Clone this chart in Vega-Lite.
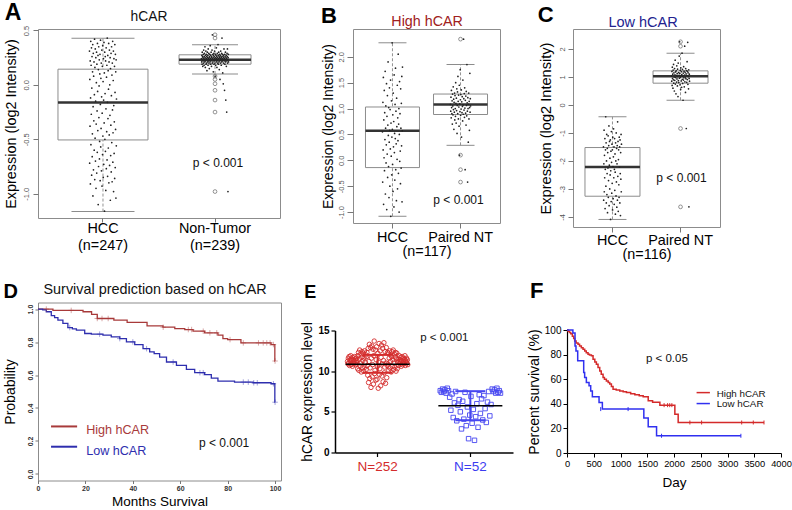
{
"$schema": "https://vega.github.io/schema/vega-lite/v6.json",
"padding": {"left": 2, "top": 1, "right": 0, "bottom": 0},
"config": {"font": "Liberation Sans", "view": {"stroke": null},
  "axis": {"grid": false, "labelFont": "Liberation Sans", "titleFont": "Liberation Sans", "titleFontWeight": "normal", "titleColor": "#000", "labelFlush": false, "labelOverlap": false, "labelBound": false},
  "axisQuantitative": {"labelOverlap": false}, "axisX": {"labelOverlap": false}, "axisY": {"labelOverlap": false},
  "title": {"font": "Liberation Sans"}, "text": {"font": "Liberation Sans"}},
"datasets": {
  "boxA": [{"g":"HCC","lo":-1.164,"q1":-0.506,"med":-0.163,"q3":0.144,"hi":0.429},{"g":"Non-Tumor","lo":0.10,"q1":0.19,"med":0.23,"q3":0.276,"hi":0.368}],
  "boxB": [{"g":"HCC","lo":-1.08,"q1":-0.14,"med":0.57,"q3":1.03,"hi":2.27},{"g":"Paired NT","lo":0.29,"q1":0.885,"med":1.08,"q3":1.28,"hi":1.85}],
  "boxC": [{"g":"HCC","lo":-4.09,"q1":-3.26,"med":-2.22,"q3":-1.52,"hi":-0.42},{"g":"Paired NT","lo":0.17,"q1":0.78,"med":1.03,"q3":1.22,"hi":1.85}]
},
"resolve": {"scale": {"xOffset": "independent", "color": "independent", "size": "independent", "shape": "independent"}},
"vconcat": [
{"hconcat": [
 {"width": 242, "height": 189, "view": {"stroke": "#8c8c8c"},
  "encoding": {"x": {"field": "g", "type": "nominal", "scale": {"domain": ["HCC","Non-Tumor"], "paddingInner": 0, "paddingOuter": 0.08},
     "axis": {"title": null, "labelAngle": 0, "domain": false, "tickSize": 4, "tickColor": "#777", "labelFontSize": 14.4, "labelColor": "#000", "labelPadding": -1, "labelLineHeight": 17, "labelOverlap": false,
       "labelExpr": "datum.value == 'HCC' ? ['HCC', '(n=247)'] : ['Non-Tumor', '(n=239)']"}}},
  "resolve": {"scale": {"size": "independent"}},
  "layer": [
   {"data": {"name": "boxA"}, "mark": {"type": "rule", "strokeDash": [3,2], "color": "#777", "strokeWidth": 0.8},
    "encoding": {"y": {"field": "lo", "type": "quantitative", "scale": {"domain": [-1.223,0.513], "nice": false, "zero": false},
       "axis": {"title": "Expression (log2 Intensity)", "titleFontSize": 14.4, "titlePadding": 4, "values": [-1,-0.5,0,0.5], "tickCount": 4, "format": ".1f", "labelExpr": "replace(datum.label, '\u2212', '-')", "labelOverlap": false,
         "labelAngle": -90, "labelAlign": "center", "labelBaseline": "bottom", "labelFontSize": 7.5, "labelColor": "#555", "labelPadding": 3, "tickSize": 5, "tickColor": "#777", "domain": false}},
     "y2": {"field": "hi"}}},
   {"data": {"name": "boxA"}, "mark": {"type": "bar", "fill": "#fff", "stroke": "#8c8c8c", "strokeWidth": 1},
    "encoding": {"y": {"field": "q1", "type": "quantitative", "scale": {"domain": [-1.223,0.513], "nice": false, "zero": false}}, "y2": {"field": "q3"},
     "size": {"field": "g", "type": "ordinal", "scale": {"domain": ["HCC","Non-Tumor"], "range": [90,72]}, "legend": null}}},
   {"data": {"name": "boxA"}, "mark": {"type": "tick", "color": "#333", "thickness": 2.5, "opacity": 1},
    "encoding": {"y": {"field": "med", "type": "quantitative", "scale": {"domain": [-1.223,0.513], "nice": false, "zero": false}},
     "size": {"field": "g", "type": "ordinal", "scale": {"domain": ["HCC","Non-Tumor"], "range": [90,72]}, "legend": null}}},
   {"data": {"name": "boxA"}, "transform": [{"fold": ["lo","hi"], "as": ["k","c"]}], "mark": {"type": "tick", "color": "#8c8c8c", "thickness": 1, "opacity": 1},
    "encoding": {"y": {"field": "c", "type": "quantitative", "scale": {"domain": [-1.223,0.513], "nice": false, "zero": false}},
     "size": {"field": "g", "type": "ordinal", "scale": {"domain": ["HCC","Non-Tumor"], "range": [63,46]}, "legend": null}}},
   {"data": {"values": [
     {"g": "HCC", "v": [0.31,-0.72,0.05,-0.38,0.22,-0.91,-0.12,0.4,-0.55,0.18,-0.27,0.34,-0.83,-0.03,0.26,-0.66,-0.45,0.12,0.37,-1.02,-0.2,0.29,-0.78,0.08,-0.33,0.21,-0.6,-0.09,0.42,-0.87,0.16,-0.49,0.33,-0.7,-0.15,0.25,-0.95,-0.36,0.02,0.3,-0.81,0.19,-0.24,-0.62,0.38,-0.06,-0.42,0.27,-1.1,0.14,-0.75,0.35,-0.3,-0.01,0.23,-0.68,-0.52,0.1,0.28,-0.88,-0.18,0.41,-0.57,0.06,-0.4,0.2,-0.79,-0.11,0.32,-0.93,-0.26,0.17,-0.64,0.36,-0.47,0.03,-0.85,0.24,-0.14,-0.73,0.39,-0.35,0.11,-1.16,0.3,-0.5,-0.08,0.26,-0.61,0.22,-0.97,-0.22,0.34,-0.77,0.07,-0.43,0.18,-0.69,0.43,-0.16,-0.84,0.27,-0.31,0.13,-0.58,-0.04,0.38,-0.9,0.21,-0.46,0.32,-0.74,0,-0.28,0.25,-1.06,0.15,-0.65,-0.37,0.29,-0.8,-0.1,0.35,-0.53,0.09,-0.89,0.2,-0.23,0.4,-0.71,-0.44,0.04,0.31,-0.98,-0.19,0.24,-0.63,-0.34,0.17,-0.86,0.37,-0.07,-0.76,0.28,-0.41,0.12,-1.04,0.23,-0.56,-0.13]},
     {"g": "Non-Tumor", "v": [0.24,0.21,0.27,0.19,0.3,0.23,0.26,0.17,0.25,0.22,0.28,0.2,0.32,0.24,0.18,0.26,0.29,0.23,0.21,0.35,0.25,0.16,0.27,0.22,0.31,0.19,0.24,0.28,0.2,0.26,0.13,0.23,0.3,0.25,0.21,0.27,0.18,0.33,0.24,0.22,0.29,0.2,0.25,0.15,0.26,0.23,0.28,0.21,0.36,0.24,0.19,0.27,0.22,0.3,0.25,0.17,0.26,0.23,0.32,0.2,0.46,0.24,0.28,0.21,0.25,0.12,0.27,0.23,0.29,0.19,0.26,0.22,0.31,0.24,0.2,0.08,0.25,0.28,0.18,0.23,0.27,0.21,0.34,0.24,0.26,0.16,0.22,0.29,0.25,0.2,0.23,0.37,0.27,0.19,0.24,0.3,0.21,0.26,0.14,0.28,0.25,0.22,0.05,0.24,0.27,0.2,0.31,0.23,0.26,0.18,0.25,0.29,0.21,0.43,0.24,0.22,0.28,0.11,0.26,0.23,0.01,0.27,0.2,0.25,0.33,0.22,0.24,-0.05,0.28,0.19,0.26,0.23,0.3,0.21,-0.14,0.25,0.27,0.17,0.24,-0.25,0.22,0.29,0.26,0.33,0.2,0.23,-0.98,0.25,0.28,0.21]}]},
    "transform": [{"flatten": ["v"]}, {"window": [{"op": "row_number", "as": "i"}], "groupby": ["g"]}, {"window": [{"op": "percent_rank", "as": "r"}], "sort": [{"field": "i"}], "groupby": ["g"]}],
    "mark": {"type": "point", "filled": true, "size": 3, "color": "#222", "opacity": 1},
    "encoding": {"xOffset": {"field": "r", "type": "quantitative", "scale": {"domain": [-1.575,2.575]}},
     "y": {"field": "v", "type": "quantitative", "scale": {"domain": [-1.223,0.513], "nice": false, "zero": false}}}},
   {"data": {"values": [{"g":"Non-Tumor","v":0.46},{"g":"Non-Tumor","v":0.43},{"g":"Non-Tumor","v":0.08},{"g":"Non-Tumor","v":0.05},{"g":"Non-Tumor","v":0.01},{"g":"Non-Tumor","v":-0.05},{"g":"Non-Tumor","v":-0.14},{"g":"Non-Tumor","v":-0.25},{"g":"Non-Tumor","v":-0.98}]},
    "mark": {"type": "point", "filled": false, "size": 14, "color": "#666", "strokeWidth": 0.7, "opacity": 1},
    "encoding": {"y": {"field": "v", "type": "quantitative", "scale": {"domain": [-1.223,0.513], "nice": false, "zero": false}}}},
   {"data": {"values": [{"g": "Non-Tumor"}]}, "mark": {"type": "text", "text": "p < 0.001", "fontSize": 12, "baseline": "alphabetic", "dx": 3, "color": "#111"},
    "encoding": {"y": {"datum": -0.75, "type": "quantitative", "scale": {"domain": [-1.223,0.513], "nice": false, "zero": false}}}},
   {"data": {"values": [{"g": "HCC"}]}, "mark": {"type": "text", "text": "hCAR", "fontSize": 13.8, "baseline": "alphabetic", "dx": 46, "color": "#111"},
    "encoding": {"y": {"datum": 0.583, "type": "quantitative", "scale": {"domain": [-1.223,0.513], "nice": false, "zero": false}}}},
   {"data": {"values": [{"g": "HCC"}]}, "mark": {"type": "text", "text": "A", "fontSize": 23, "fontWeight": "bold", "align": "left", "baseline": "alphabetic", "dx": -98.3, "color": "#000"},
    "encoding": {"y": {"datum": 0.596, "type": "quantitative", "scale": {"domain": [-1.223,0.513], "nice": false, "zero": false}}}}
  ]},
 {"width": 147, "height": 194, "view": {"stroke": "#8c8c8c"},
  "encoding": {"x": {"field": "g", "type": "nominal", "scale": {"domain": ["HCC","Paired NT"], "paddingInner": 0, "paddingOuter": 0.08},
     "axis": {"title": "(n=117)", "titleFontSize": 14.4, "titlePadding": 1, "labelAngle": 0, "domain": false, "tickSize": 5, "tickColor": "#777", "labelFontSize": 14.4, "labelColor": "#000", "labelPadding": 2, "labelOverlap": false}}},
  "layer": [
   {"data": {"name": "boxB"}, "mark": {"type": "rule", "strokeDash": [3,2], "color": "#777", "strokeWidth": 0.8},
    "encoding": {"y": {"field": "lo", "type": "quantitative", "scale": {"domain": [-1.21,2.536], "nice": false, "zero": false},
       "axis": {"title": "Expression (log2 Intensity)", "titleFontSize": 14, "titlePadding": 2, "values": [-1,-0.5,0,0.5,1,1.5,2], "tickCount": 7, "format": ".1f", "labelExpr": "replace(datum.label, '\u2212', '-')", "labelOverlap": false,
         "labelAngle": -90, "labelAlign": "center", "labelBaseline": "bottom", "labelFontSize": 7.5, "labelColor": "#555", "labelPadding": 2, "tickSize": 6, "tickColor": "#777", "domain": false}},
     "y2": {"field": "hi"}}},
   {"data": {"name": "boxB"}, "mark": {"type": "bar", "fill": "#fff", "stroke": "#8c8c8c", "strokeWidth": 1, "width": 54},
    "encoding": {"y": {"field": "q1", "type": "quantitative", "scale": {"domain": [-1.21,2.536], "nice": false, "zero": false}}, "y2": {"field": "q3"}}},
   {"data": {"name": "boxB"}, "mark": {"type": "tick", "color": "#333", "thickness": 2.5, "size": 54, "opacity": 1},
    "encoding": {"y": {"field": "med", "type": "quantitative", "scale": {"domain": [-1.21,2.536], "nice": false, "zero": false}}}},
   {"data": {"name": "boxB"}, "transform": [{"fold": ["lo","hi"], "as": ["k","c"]}], "mark": {"type": "tick", "color": "#8c8c8c", "thickness": 1, "size": 28, "opacity": 1},
    "encoding": {"y": {"field": "c", "type": "quantitative", "scale": {"domain": [-1.21,2.536], "nice": false, "zero": false}}}},
   {"data": {"values": [
     {"g": "HCC", "v": [0.55,-0.42,1.12,0.2,1.6,-0.85,0.78,0.05,1.35,-0.2,0.92,0.4,1.72,-0.65,0.62,1.05,-0.05,0.3,1.48,-0.95,0.85,0.12,1.25,-0.33,0.68,1.9,0.48,-0.12,1.02,-0.72,0.35,1.4,0.58,-0.5,0.98,0.22,1.55,-1.08,0.72,0.08,1.15,-0.28,0.45,2.27,0.6,-0.08,0.88,-0.6,1.3,0.26,0.75,-0.9,1.65,0.15,0.52,-0.38,1.08,0.42,1.78,-0.18,0.95,0.32,-0.78,1.2,0.65,0.02,1.45,-0.55,0.82,0.38,2.05,-0.25,0.7,1.0,-1.0,0.5,1.52,-0.02,0.9,0.18,-0.45,1.38,0.62,-0.15,1.1,0.28,1.62,-0.8,0.57,1.8]},
     {"g": "Paired NT", "v": [1.08,0.95,1.22,0.82,1.35,1.02,0.9,1.15,0.7,1.28,1.05,0.88,1.42,0.98,1.18,0.6,1.12,0.93,1.3,0.78,1.25,1.0,0.85,1.5,1.1,0.72,1.2,0.96,1.38,0.52,1.06,1.32,0.9,1.62,1.14,0.8,1.26,1.03,0.66,1.45,0.1,1.09,0.94,1.75,1.17,0.87,1.27,0.99,1.36,0.45,1.13,0.92,1.23,1.04,0.76,1.55,1.07,0.89,2.34,1.19,0.97,1.29,0.83,1.4,1.01,-0.18,1.16,0.91,1.24,0.68,1.33,1.06,0.86,1.85,1.11,0.95,-0.42,1.21,1.0,0.35,1.08,1.3,0.8,1.14,0.58,1.02,1.68,0.93,1.19,1.05]}]},
    "transform": [{"flatten": ["v"]}, {"window": [{"op": "row_number", "as": "i"}], "groupby": ["g"]}, {"window": [{"op": "percent_rank", "as": "r"}], "sort": [{"field": "i"}], "groupby": ["g"]}],
    "mark": {"type": "point", "filled": true, "size": 3, "color": "#222", "opacity": 1},
    "encoding": {"xOffset": {"field": "r", "type": "quantitative", "scale": {"domain": [-1.2,2.2]}},
     "y": {"field": "v", "type": "quantitative", "scale": {"domain": [-1.21,2.536], "nice": false, "zero": false}}}},
   {"data": {"values": [{"g":"Paired NT","v":2.34},{"g":"Paired NT","v":0.1},{"g":"Paired NT","v":-0.18},{"g":"Paired NT","v":-0.42}]},
    "mark": {"type": "point", "filled": false, "size": 14, "color": "#666", "strokeWidth": 0.7, "opacity": 1},
    "encoding": {"y": {"field": "v", "type": "quantitative", "scale": {"domain": [-1.21,2.536], "nice": false, "zero": false}}}},
   {"data": {"values": [{"g": "Paired NT"}]}, "mark": {"type": "text", "text": "p < 0.001", "fontSize": 12, "baseline": "alphabetic", "dx": -2, "color": "#111"},
    "encoding": {"y": {"datum": -0.85, "type": "quantitative", "scale": {"domain": [-1.21,2.536], "nice": false, "zero": false}}}},
   {"data": {"values": [{"g": "HCC"}]}, "mark": {"type": "text", "text": "High hCAR", "fontSize": 14.3, "baseline": "alphabetic", "dx": 34.6, "color": "#a02020"},
    "encoding": {"y": {"datum": 2.594, "type": "quantitative", "scale": {"domain": [-1.21,2.536], "nice": false, "zero": false}}}},
   {"data": {"values": [{"g": "HCC"}]}, "mark": {"type": "text", "text": "B", "fontSize": 22, "fontWeight": "bold", "align": "left", "baseline": "alphabetic", "dx": -71.4, "color": "#000"},
    "encoding": {"y": {"datum": 2.646, "type": "quantitative", "scale": {"domain": [-1.21,2.536], "nice": false, "zero": false}}}}
  ]},
 {"width": 147, "height": 198, "view": {"stroke": "#8c8c8c"},
  "encoding": {"x": {"field": "g", "type": "nominal", "scale": {"domain": ["HCC","Paired NT"], "paddingInner": 0, "paddingOuter": 0.08},
     "axis": {"title": "(n=116)", "titleFontSize": 14.4, "titlePadding": 1, "labelAngle": 0, "domain": false, "tickSize": 5, "tickColor": "#777", "labelFontSize": 14.4, "labelColor": "#000", "labelPadding": 1, "labelOverlap": false}}},
  "layer": [
   {"data": {"name": "boxC"}, "mark": {"type": "rule", "strokeDash": [3,2], "color": "#777", "strokeWidth": 0.8},
    "encoding": {"y": {"field": "lo", "type": "quantitative", "scale": {"domain": [-4.36,2.716], "nice": false, "zero": false},
       "axis": {"title": "Expression (log2 Intensity)", "titleFontSize": 14.6, "titlePadding": 5, "values": [-4,-3,-2,-1,0,1,2], "tickCount": 7, "format": "d", "labelExpr": "replace(datum.label, '\u2212', '-')", "labelOverlap": false,
         "labelAngle": -90, "labelAlign": "center", "labelBaseline": "bottom", "labelFontSize": 7.5, "labelColor": "#555", "labelPadding": 2, "tickSize": 5, "tickColor": "#777", "domain": false}},
     "y2": {"field": "hi"}}},
   {"data": {"name": "boxC"}, "mark": {"type": "bar", "fill": "#fff", "stroke": "#8c8c8c", "strokeWidth": 1, "width": 55},
    "encoding": {"y": {"field": "q1", "type": "quantitative", "scale": {"domain": [-4.36,2.716], "nice": false, "zero": false}}, "y2": {"field": "q3"}}},
   {"data": {"name": "boxC"}, "mark": {"type": "tick", "color": "#333", "thickness": 2.5, "size": 55, "opacity": 1},
    "encoding": {"y": {"field": "med", "type": "quantitative", "scale": {"domain": [-4.36,2.716], "nice": false, "zero": false}}}},
   {"data": {"name": "boxC"}, "transform": [{"fold": ["lo","hi"], "as": ["k","c"]}], "mark": {"type": "tick", "color": "#8c8c8c", "thickness": 1, "size": 28, "opacity": 1},
    "encoding": {"y": {"field": "c", "type": "quantitative", "scale": {"domain": [-4.36,2.716], "nice": false, "zero": false}}}},
   {"data": {"values": [
     {"g": "HCC", "v": [-1.5,-3.4,-2.1,-0.9,-3.1,-1.8,-2.6,-1.2,-3.7,-2.3,-1.6,-0.42,-2.9,-1.35,-3.5,-2.0,-1.05,-3.2,-2.45,-1.55,-3.85,-1.7,-2.25,-1.1,-3.3,-2.7,-1.45,-0.75,-3.6,-2.15,-1.3,-3.0,-1.9,-2.5,-1.25,-4.09,-2.35,-1.65,-3.45,-0.95,-2.05,-3.15,-1.4,-2.8,-1.6,-3.75,-1.15,-2.2,-3.35,-1.85,-0.85,-2.6,-1.5,-3.55,-2.3,-1.2,-3.05,-1.75,-2.4,-3.9,-1.35,-2.0,-3.25,-1.0,-2.75,-1.55,-3.65,-2.1,-1.45,-3.4,-0.6,-2.55,-1.3,-3.8,-1.95,-1.6,-2.85,-3.3,-1.15,-2.22,-1.5,-3.5,-1.25,-2.45,-3.95,-1.7,-2.65,-1.05,-3.1,-1.4]},
     {"g": "Paired NT", "v": [1.03,0.85,1.2,0.7,1.35,0.95,1.1,0.6,1.25,0.9,1.45,0.78,1.15,1.0,0.5,1.3,0.88,1.08,1.6,0.75,1.18,0.98,0.4,1.22,1.05,0.82,1.4,0.93,1.12,0.68,1.28,1.01,0.3,1.5,0.87,1.16,0.8,1.06,1.75,0.96,2.26,1.13,0.72,1.24,0.99,0.55,1.33,1.04,0.86,1.19,0.63,1.09,1.85,0.92,1.27,0.77,1.02,0.17,1.14,0.89,1.37,0.97,1.21,0.65,1.07,2.1,0.83,1.17,1.0,0.45,1.3,0.94,1.11,-0.84,1.23,0.81,1.05,1.55,0.91,1.2,2.24,0.74,1.15,1.02,0.58,1.26,-3.64,0.95,1.1,0.85]}]},
    "transform": [{"flatten": ["v"]}, {"window": [{"op": "row_number", "as": "i"}], "groupby": ["g"]}, {"window": [{"op": "percent_rank", "as": "r"}], "sort": [{"field": "i"}], "groupby": ["g"]}],
    "mark": {"type": "point", "filled": true, "size": 3, "color": "#222", "opacity": 1},
    "encoding": {"xOffset": {"field": "r", "type": "quantitative", "scale": {"domain": [-1.39,2.39]}},
     "y": {"field": "v", "type": "quantitative", "scale": {"domain": [-4.36,2.716], "nice": false, "zero": false}}}},
   {"data": {"values": [{"g":"Paired NT","v":2.26},{"g":"Paired NT","v":2.1},{"g":"Paired NT","v":-0.84},{"g":"Paired NT","v":-3.64}]},
    "mark": {"type": "point", "filled": false, "size": 14, "color": "#666", "strokeWidth": 0.7, "opacity": 1},
    "encoding": {"y": {"field": "v", "type": "quantitative", "scale": {"domain": [-4.36,2.716], "nice": false, "zero": false}}}},
   {"data": {"values": [{"g": "Paired NT"}]}, "mark": {"type": "text", "text": "p < 0.001", "fontSize": 12, "baseline": "alphabetic", "dx": 1, "color": "#111"},
    "encoding": {"y": {"datum": -2.75, "type": "quantitative", "scale": {"domain": [-4.36,2.716], "nice": false, "zero": false}}}},
   {"data": {"values": [{"g": "HCC"}]}, "mark": {"type": "text", "text": "Low hCAR", "fontSize": 14.5, "baseline": "alphabetic", "dx": 30.6, "color": "#22228f"},
    "encoding": {"y": {"datum": 2.798, "type": "quantitative", "scale": {"domain": [-4.36,2.716], "nice": false, "zero": false}}}},
   {"data": {"values": [{"g": "HCC"}]}, "mark": {"type": "text", "text": "C", "fontSize": 22, "fontWeight": "bold", "align": "left", "baseline": "alphabetic", "dx": -74.7, "color": "#000"},
    "encoding": {"y": {"datum": 2.977, "type": "quantitative", "scale": {"domain": [-4.36,2.716], "nice": false, "zero": false}}}}
  ]}
 ], "spacing": 73, "bounds": "flush", "resolve": {"scale": {"xOffset": "independent", "size": "independent"}}},
{"hconcat": [
 {"width": 243, "height": 178, "view": {"stroke": "#8c8c8c"},
  "layer": [
   {"data": {"values": [
     {"grp": "High", "m": [0,6.3,19,22.6,25,32,37.6,46,52.7,57.7,61.9,65.4,70.3,75.9,78,80,85.6,98.3,99.9,100], "p": [1,0.992,0.984,0.968,0.943,0.933,0.919,0.898,0.89,0.882,0.876,0.866,0.856,0.842,0.821,0.815,0.795,0.785,0.685,0.685]},
     {"grp": "Low", "m": [0,2,3.5,5.6,7,8.4,10.5,12.6,14.5,16.2,19.7,22.5,27.4,30.9,34.5,37.3,40.8,44.3,47.1,49,51.3,54.2,58.4,62.6,66.1,70.3,73.1,75.9,82.9,90.7,98.3,99.9,100], "p": [1,0.995,0.984,0.96,0.948,0.933,0.913,0.888,0.88,0.872,0.852,0.848,0.842,0.831,0.821,0.801,0.785,0.76,0.74,0.73,0.709,0.679,0.659,0.634,0.614,0.602,0.581,0.563,0.557,0.553,0.547,0.435,0.435]}]},
    "transform": [{"flatten": ["m","p"]}],
    "mark": {"type": "line", "interpolate": "step-after", "strokeWidth": 1.3},
    "encoding": {
     "x": {"field": "m", "type": "quantitative", "scale": {"domain": [0,102.5], "nice": false, "zero": false},
       "axis": {"title": "Months Survival", "titleFontSize": 13.5, "titlePadding": 3, "values": [0,20,40,60,80,100], "tickCount": 6, "format": "d", "labelFontSize": 7, "labelFontWeight": "bold", "labelColor": "#333", "tickSize": 3, "tickColor": "#777", "labelPadding": 1, "domain": false, "labelOverlap": false}},
     "y": {"field": "p", "type": "quantitative", "scale": {"domain": [-0.04,1.04], "nice": false, "zero": false},
       "axis": {"title": "Probability", "titleFontSize": 14, "titlePadding": 9, "values": [0,0.2,0.4,0.6,0.8,1], "tickCount": 6, "format": ".1f", "labelAngle": -90, "labelAlign": "center", "labelBaseline": "bottom", "labelFontSize": 7, "labelFontWeight": "bold", "labelColor": "#333", "tickSize": 3, "tickColor": "#777", "labelPadding": 2, "domain": false, "labelOverlap": false}},
     "color": {"field": "grp", "type": "nominal", "scale": {"domain": ["High","Low"], "range": ["#a83a3a","#2e2eae"]}, "legend": null}}},
   {"data": {"values": [
     {"grp": "High", "m": [3.5,14,25,27,29.6,52.8,63.4,64.8,69.7,72.5,75.4,81,86.6,93,95,96.5,97.9,99.3,100], "p": [1,0.992,0.943,0.943,0.943,0.89,0.876,0.876,0.866,0.856,0.856,0.815,0.795,0.795,0.795,0.795,0.795,0.785,0.685]},
     {"grp": "Low", "m": [13.4,26,34.5,40,45.8,57,68.3,69.7,86.6,88.7,91,92.5,99.3,100], "p": [0.888,0.848,0.821,0.801,0.76,0.679,0.614,0.614,0.557,0.557,0.553,0.553,0.547,0.435]}]},
    "transform": [{"flatten": ["m","p"]}],
    "mark": {"type": "point", "shape": "M-1,0H1M0,-1V1", "size": 30, "strokeWidth": 0.8, "filled": false, "opacity": 0.55},
    "encoding": {"x": {"field": "m", "type": "quantitative", "scale": {"domain": [0,102.5], "nice": false, "zero": false}},
     "y": {"field": "p", "type": "quantitative", "scale": {"domain": [-0.04,1.04], "nice": false, "zero": false}},
     "color": {"field": "grp", "type": "nominal", "scale": {"domain": ["High","Low"], "range": ["#a83a3a","#2e2eae"]}, "legend": null}}},
   {"data": {"values": [{}]}, "mark": {"type": "rule", "strokeWidth": 2, "color": "#a83a3a"},
    "encoding": {"x": {"datum": 5.5, "type": "quantitative", "scale": {"domain": [0,102.5], "nice": false, "zero": false}}, "x2": {"datum": 16.5}, "y": {"datum": 0.288, "type": "quantitative", "scale": {"domain": [-0.04,1.04], "nice": false, "zero": false}}}},
   {"data": {"values": [{}]}, "mark": {"type": "rule", "strokeWidth": 2, "color": "#2e2eae"},
    "encoding": {"x": {"datum": 5.5, "type": "quantitative", "scale": {"domain": [0,102.5], "nice": false, "zero": false}}, "x2": {"datum": 16.5}, "y": {"datum": 0.165, "type": "quantitative", "scale": {"domain": [-0.04,1.04], "nice": false, "zero": false}}}},
   {"data": {"values": [{}]}, "mark": {"type": "text", "text": "High hCAR", "align": "left", "baseline": "alphabetic", "fontSize": 12.6, "color": "#a83a3a"},
    "encoding": {"x": {"datum": 20.3, "type": "quantitative", "scale": {"domain": [0,102.5], "nice": false, "zero": false}}, "y": {"datum": 0.242, "type": "quantitative", "scale": {"domain": [-0.04,1.04], "nice": false, "zero": false}}}},
   {"data": {"values": [{}]}, "mark": {"type": "text", "text": "Low hCAR", "align": "left", "baseline": "alphabetic", "fontSize": 12.6, "color": "#2e2eae"},
    "encoding": {"x": {"datum": 20.3, "type": "quantitative", "scale": {"domain": [0,102.5], "nice": false, "zero": false}}, "y": {"datum": 0.116, "type": "quantitative", "scale": {"domain": [-0.04,1.04], "nice": false, "zero": false}}}},
   {"data": {"values": [{}]}, "mark": {"type": "text", "text": "p < 0.001", "align": "center", "baseline": "alphabetic", "fontSize": 12, "color": "#111"},
    "encoding": {"x": {"datum": 78.5, "type": "quantitative", "scale": {"domain": [0,102.5], "nice": false, "zero": false}}, "y": {"datum": 0.166, "type": "quantitative", "scale": {"domain": [-0.04,1.04], "nice": false, "zero": false}}}},
   {"data": {"values": [{}]}, "mark": {"type": "text", "text": "Survival prediction based on hCAR", "align": "center", "baseline": "alphabetic", "fontSize": 14.4, "color": "#111"},
    "encoding": {"x": {"datum": 49.4, "type": "quantitative", "scale": {"domain": [0,102.5], "nice": false, "zero": false}}, "y": {"datum": 1.092, "type": "quantitative", "scale": {"domain": [-0.04,1.04], "nice": false, "zero": false}}}},
   {"data": {"values": [{}]}, "mark": {"type": "text", "text": "D", "align": "left", "baseline": "alphabetic", "fontSize": 20, "fontWeight": "bold", "color": "#000"},
    "encoding": {"x": {"datum": -14.5, "type": "quantitative", "scale": {"domain": [0,102.5], "nice": false, "zero": false}}, "y": {"datum": 1.0685, "type": "quantitative", "scale": {"domain": [-0.04,1.04], "nice": false, "zero": false}}}}
  ]},
 {"width": 178, "height": 122,
  "encoding": {"x": {"field": "g", "type": "nominal", "scale": {"domain": ["N=252","N=52"], "paddingInner": 0.08, "paddingOuter": 0},
     "axis": {"title": null, "labelAngle": 0, "domainColor": "#000", "domainWidth": 1.5, "tickColor": "#000", "tickWidth": 1.2, "tickSize": 4, "labelFontSize": 13.5, "labelPadding": 3, "labelOverlap": false,
       "labelColor": {"condition": {"test": "datum.value == 'N=252'", "value": "#d42c2c"}, "value": "#3c3cf0"}}}},
  "layer": [
   {"data": {"values": [
     {"g": "N=252", "v": [11.2,10.9,11.6,11.0,11.8,10.7,11.4,11.1,11.9,10.8,11.5,11.3,10.6,11.7,11.0,11.4,10.9,11.2,11.8,11.5,10.8,11.1,11.6,11.3,11.0,10.3,11.9,12.3,10.1,11.5,12.6,10.6,11.0,12.1,9.9,11.7,12.4,10.4,11.3,12.2,10.0,11.6,12.5,10.5,11.1,12.0,10.2,11.8,12.3,10.7,9.5,12.8,8.6,11.2,13.3,9.1,10.4,12.9,8.0,11.6,13.1,9.3,10.8,12.7,8.4,11.9,13.7,9.7,10.1,12.6,8.9,11.4,13.0,9.0,10.6,12.2,7.9,11.1,13.4,9.6,10.3,12.5,8.2,11.7,13.2,9.4,10.9,12.8,8.7,11.3,13.5,9.8,10.5,12.4,8.5,11.0,12.9,9.2,10.7,12.3,10.9,12.2,10.1,11.6,12.5,10.4,11.2,12.0,9.9,11.8,12.4,10.6,11.4,12.6,10.2,11.0,12.1,10.5,11.7,12.3,10.0,11.5,12.2,10.3,11.1,11.5,10.7,11.2,11.9,10.9,11.4,11.1,11.7,10.6,11.3,11.8,10.8,11.0,11.6,11.2,10.9,11.5,11.9,10.7,11.3,11.1,11.6,11.0,11.4,10.8]},
     {"g": "N=52", "v": [7.6,7.4,7.8,7.5,7.7,7.3,7.9,7.6,6.8,5.2,7.2,4.3,6.1,7.5,3.9,5.8,6.5,5.0,2.9,6.3,4.1,7.4,3.3,5.6,1.7,4.6,6.9,3.6,5.3,1.5,4.4,6.0,3.1,7.1,4.8,6.6,4.0,7.0,5.4,3.7,6.2,7.5,4.5,5.9,7.8,7.5,7.7,7.3,7.9,7.4,7.6,7.3]}]},
    "transform": [{"flatten": ["v"]}, {"window": [{"op": "row_number", "as": "i"}], "groupby": ["g"]}, {"window": [{"op": "percent_rank", "as": "r"}], "sort": [{"field": "i"}], "groupby": ["g"]}],
    "mark": {"type": "point", "filled": false, "size": 20, "strokeWidth": 0.9, "opacity": 1},
    "encoding": {"xOffset": {"field": "r", "type": "quantitative", "scale": {"domain": [-0.208,1.208]}},
     "y": {"field": "v", "type": "quantitative", "scale": {"domain": [0,15], "nice": false, "zero": false},
       "axis": {"title": "hCAR expression level", "titleFontSize": 13.8, "titlePadding": 3, "values": [0,5,10,15], "tickCount": 4, "labelFontSize": 10, "labelFontWeight": "bold", "labelColor": "#000", "tickSize": 4, "tickColor": "#000", "tickWidth": 1.2, "domainColor": "#000", "domainWidth": 1.5, "labelPadding": 2, "labelOverlap": false}},
     "color": {"field": "g", "type": "nominal", "scale": {"domain": ["N=252","N=52"], "range": ["#d42c2c","#4646f0"]}, "legend": null},
     "shape": {"field": "g", "type": "nominal", "scale": {"domain": ["N=252","N=52"], "range": ["circle","square"]}, "legend": null}}},
   {"data": {"values": [{"g":"N=252","m":10.86,"lo":9.8,"hi":12.0},{"g":"N=52","m":5.74,"lo":3.97,"hi":7.54}]},
    "mark": {"type": "rule", "strokeWidth": 2},
    "encoding": {"y": {"field": "lo", "type": "quantitative", "scale": {"domain": [0,15], "nice": false, "zero": false}}, "y2": {"field": "hi"},
     "color": {"field": "g", "type": "nominal", "scale": {"domain": ["N=252","N=52"], "range": ["#d42c2c","#2a2ae8"]}, "legend": null}}},
   {"data": {"values": [{"g":"N=252","m":10.86,"lo":9.8,"hi":12.0},{"g":"N=52","m":5.74,"lo":3.97,"hi":7.54}]},
    "transform": [{"fold": ["lo","hi"], "as": ["k","c"]}],
    "mark": {"type": "tick", "size": 30, "thickness": 2, "opacity": 1},
    "encoding": {"y": {"field": "c", "type": "quantitative", "scale": {"domain": [0,15], "nice": false, "zero": false}},
     "color": {"field": "g", "type": "nominal", "scale": {"domain": ["N=252","N=52"], "range": ["#d42c2c","#2a2ae8"]}, "legend": null}}},
   {"data": {"values": [{"g":"N=252","m":10.86},{"g":"N=52","m":5.74}]},
    "mark": {"type": "tick", "size": 64, "thickness": 1.5, "color": "#000", "opacity": 1},
    "encoding": {"y": {"field": "m", "type": "quantitative", "scale": {"domain": [0,15], "nice": false, "zero": false}}}},
   {"data": {"values": [{"g": "N=52"}]}, "mark": {"type": "text", "text": "p < 0.001", "fontSize": 11.5, "baseline": "alphabetic", "dx": -26, "color": "#111"},
    "encoding": {"y": {"datum": 13.73, "type": "quantitative", "scale": {"domain": [0,15], "nice": false, "zero": false}}}},
   {"data": {"values": [{"g": "N=252"}]}, "mark": {"type": "text", "text": "E", "fontSize": 18, "fontWeight": "bold", "align": "left", "baseline": "alphabetic", "dx": -73.3, "color": "#000"},
    "encoding": {"y": {"datum": 19.02, "type": "quantitative", "scale": {"domain": [0,15], "nice": false, "zero": false}}}}
  ]},
 {"width": 214, "height": 123,
  "layer": [
   {"data": {"values": [
     {"grp": "High", "d": [0,20,45,70,100,125,144,170,206,235,268,300,331,360,393,420,456,487,520,549,580,612,640,674,700,736,770,799,830,861,920,986,1050,1111,1190,1268,1350,1424,1518,1600,1736,2016,2078,3682], "s": [100,99,98,97,95,93,91,89.5,88.4,87,85.6,84.3,83,81.6,80.3,79.6,79,76.2,74,72.2,69.5,66.7,64,61.3,60,58.6,57.3,56,54,51.9,51.2,50.5,49.8,49.1,48.2,47.3,46.5,45.7,42.4,41.2,38.9,31.6,24.8,24.8]},
     {"grp": "Low", "d": [0,110,150,168,200,312,330,362,412,443,474,599,661,1436,1518,1674,3250], "s": [100,97.5,87,83,75,65.4,61.3,57.3,54.6,50.5,45.7,41,35.7,28.4,21.3,14,14]}]},
    "transform": [{"flatten": ["d","s"]}],
    "mark": {"type": "line", "interpolate": "step-after", "strokeWidth": 1.5},
    "encoding": {
     "x": {"field": "d", "type": "quantitative", "scale": {"domain": [0,4000], "nice": false, "zero": false},
       "axis": {"title": "Day", "titleFontSize": 13.5, "titlePadding": 7, "values": [0,500,1000,1500,2000,2500,3000,3500,4000], "tickCount": 9, "format": "d", "labelFontSize": 9.3, "labelColor": "#000", "tickSize": 4, "tickColor": "#000", "domainColor": "#000", "domainWidth": 1.2, "labelPadding": 2, "labelOverlap": false}},
     "y": {"field": "s", "type": "quantitative", "scale": {"domain": [0,100], "nice": false, "zero": false},
       "axis": {"title": "Percent survival (%)", "titleFontSize": 14, "titlePadding": 3, "values": [0,20,40,60,80,100], "tickCount": 6, "labelFontSize": 10, "labelColor": "#000", "tickSize": 4, "tickColor": "#000", "domainColor": "#000", "domainWidth": 1.2, "labelPadding": 2, "labelOverlap": false}},
     "color": {"field": "grp", "type": "nominal", "scale": {"domain": ["High","Low"], "range": ["#d42a2a","#3030f0"]}, "legend": null}}},
   {"data": {"values": [
     {"grp": "High", "d": [1815,1880,1920,1960,2297,2516,3265,3482,3682], "s": [38.9,38.9,38.9,38.9,24.8,24.8,24.8,24.8,24.8]},
     {"grp": "Low", "d": [630,1142,1767,3250], "s": [35.7,35.7,14,14]}]},
    "transform": [{"flatten": ["d","s"]}],
    "mark": {"type": "point", "shape": "M0,-1V1", "size": 16, "strokeWidth": 1, "filled": false, "opacity": 1},
    "encoding": {"x": {"field": "d", "type": "quantitative", "scale": {"domain": [0,4000], "nice": false, "zero": false}},
     "y": {"field": "s", "type": "quantitative", "scale": {"domain": [0,100], "nice": false, "zero": false}},
     "color": {"field": "grp", "type": "nominal", "scale": {"domain": ["High","Low"], "range": ["#d42a2a","#3030f0"]}, "legend": null}}},
   {"data": {"values": [{}]}, "mark": {"type": "rule", "strokeWidth": 1.5, "color": "#d42a2a"},
    "encoding": {"x": {"datum": 2422, "type": "quantitative", "scale": {"domain": [0,4000], "nice": false, "zero": false}}, "x2": {"datum": 2671}, "y": {"datum": 49.1, "type": "quantitative", "scale": {"domain": [0,100], "nice": false, "zero": false}}}},
   {"data": {"values": [{}]}, "mark": {"type": "rule", "strokeWidth": 1.5, "color": "#3030f0"},
    "encoding": {"x": {"datum": 2422, "type": "quantitative", "scale": {"domain": [0,4000], "nice": false, "zero": false}}, "x2": {"datum": 2671}, "y": {"datum": 40.2, "type": "quantitative", "scale": {"domain": [0,100], "nice": false, "zero": false}}}},
   {"data": {"values": [{}]}, "mark": {"type": "text", "text": "High hCAR", "align": "left", "baseline": "alphabetic", "fontSize": 9.8, "color": "#111"},
    "encoding": {"x": {"datum": 2797, "type": "quantitative", "scale": {"domain": [0,4000], "nice": false, "zero": false}}, "y": {"datum": 45.9, "type": "quantitative", "scale": {"domain": [0,100], "nice": false, "zero": false}}}},
   {"data": {"values": [{}]}, "mark": {"type": "text", "text": "Low hCAR", "align": "left", "baseline": "alphabetic", "fontSize": 9.8, "color": "#111"},
    "encoding": {"x": {"datum": 2797, "type": "quantitative", "scale": {"domain": [0,4000], "nice": false, "zero": false}}, "y": {"datum": 37, "type": "quantitative", "scale": {"domain": [0,100], "nice": false, "zero": false}}}},
   {"data": {"values": [{}]}, "mark": {"type": "text", "text": "p < 0.05", "align": "center", "baseline": "alphabetic", "fontSize": 11.5, "color": "#111"},
    "encoding": {"x": {"datum": 1866, "type": "quantitative", "scale": {"domain": [0,4000], "nice": false, "zero": false}}, "y": {"datum": 74, "type": "quantitative", "scale": {"domain": [0,100], "nice": false, "zero": false}}}},
   {"data": {"values": [{}]}, "mark": {"type": "text", "text": "F", "align": "left", "baseline": "alphabetic", "fontSize": 22, "fontWeight": "bold", "color": "#000"},
    "encoding": {"x": {"datum": -692, "type": "quantitative", "scale": {"domain": [0,4000], "nice": false, "zero": false}}, "y": {"datum": 126.2, "type": "quantitative", "scale": {"domain": [0,100], "nice": false, "zero": false}}}}
  ]}
 ], "spacing": 54, "bounds": "flush", "center": true, "resolve": {"scale": {"xOffset": "independent", "color": "independent", "shape": "independent"}}}
],
"spacing": 17.5
}
